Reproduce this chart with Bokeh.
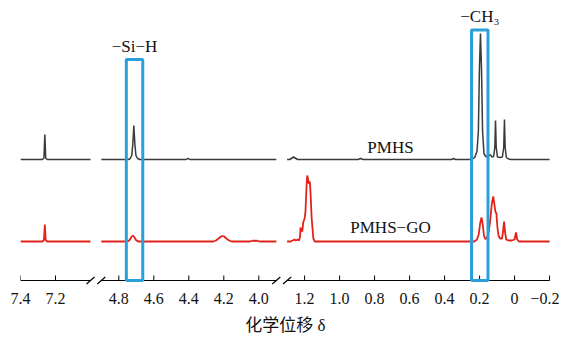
from bokeh.plotting import figure
from bokeh.models import Range1d, FixedTicker
from bokeh.core.properties import value
from bokeh.embed import file_html
from bokeh.resources import INLINE

# ---------------- data (chemical shift in ppm, intensity in arbitrary units) ----------------
# PMHS spectrum (black)
pmhs_seg1_ppm = [7.40, 7.275, 7.266, 7.261, 7.256, 7.247, 7.00]
pmhs_seg1_int = [0, 0, 1.5, 25, 1.5, 0, 0]
pmhs_seg2_ppm = [4.90, 4.745, 4.735, 4.726, 4.720, 4.714, 4.708, 4.702, 4.693, 4.680,
                 4.415, 4.405, 4.395, 3.90]
pmhs_seg2_int = [0, 0, 1, 4, 15, 34, 15, 4, 1, 0, 0, 1.2, 0, 0]
pmhs_seg3_ppm = [1.30, 1.285, 1.272, 1.263, 1.254, 1.24, 0.895, 0.880, 0.865, 0.36, 0.349, 0.338,
                 0.245, 0.228, 0.215, 0.207, 0.201, 0.195, 0.189, 0.183, 0.175, 0.165, 0.155,
                 0.145, 0.138, 0.130, 0.120, 0.113, 0.109, 0.105, 0.098, 0.085, 0.070, 0.062,
                 0.058, 0.054, 0.047, 0.035, 0.020, -0.20]
pmhs_seg3_int = [0, 0, 1.5, 2.5, 1.5, 0, 0, 1.0, 0, 0, 1.0, 0,
                 0, 2, 8, 28, 90, 126, 90, 28, 6, 3, 3,
                 4, 5, 2.5, 3, 12, 39, 12, 2.5, 2, 2.5, 12,
                 40, 12, 2, 0.5, 0, 0]

# PMHS-GO spectrum (red)
go_seg1_ppm = [7.40, 7.275, 7.266, 7.261, 7.256, 7.247, 7.00]
go_seg1_int = [0, 0, 1.5, 17, 1.5, 0, 0]
go_seg2_ppm = [4.90, 4.75, 4.738, 4.728, 4.72, 4.712, 4.702, 4.69, 4.26, 4.245, 4.23, 4.215,
               4.207, 4.198, 4.185, 4.17, 4.155, 4.05, 4.035, 4.03, 4.025, 4.02, 4.015, 4.005,
               3.99, 3.90]
go_seg2_int = [0, 0, 1.5, 4.5, 6, 4.5, 1.5, 0, 0, 1, 3, 5,
               5.5, 5, 3, 1, 0, 0, 1, 0.3, 1.2, 0.3, 1, 0.3,
               0, 0]
go_seg3_ppm = [1.30, 1.28, 1.268, 1.258, 1.25, 1.24, 1.232, 1.226, 1.223, 1.218, 1.213, 1.208,
               1.200, 1.195, 1.189, 1.185, 1.180, 1.176, 1.170, 1.165, 1.160, 1.150, 1.142,
               0.23, 0.215, 0.205, 0.197, 0.189, 0.182, 0.175, 0.168, 0.160, 0.150, 0.140,
               0.130, 0.122, 0.116, 0.110, 0.104, 0.098, 0.092, 0.083, 0.072, 0.066, 0.060,
               0.055, 0.048, 0.035, 0.015, 0.0, -0.008, -0.015, -0.025, -0.20]
go_seg3_int = [0, 0, 1, 2, 1, 2, 1, 5, 14, 11, 10, 19,
               23, 30, 55, 66, 62, 58, 60, 45, 24, 3, 0,
               0, 2, 7, 18, 24, 17, 6, 2.5, 3, 8, 20,
               38, 45, 38, 30, 28, 14, 6, 3, 3, 10, 20,
               10, 2, 1, 1, 2, 9, 2, 0, 0]

# axis ticks per segment
tick_ppm = [7.4, 7.2, 4.8, 4.6, 4.4, 4.2, 4.0, 1.2, 1.0, 0.8, 0.6, 0.4, 0.2, 0.0, -0.2]
tick_labels = ["7.4", "7.2", "4.8", "4.6", "4.4", "4.2", "4.0", "1.2", "1.0", "0.8", "0.6",
               "0.4", "0.2", "0", "\u22120.2"]

# highlighted regions (ppm)
box_left_ppm = [4.757, 0.246]
box_right_ppm = [4.663, 0.152]
box_labels = ["\u2212Si\u2212H", "\u2212CH\u2083"]

# displayed ppm ranges of the broken axis
segments = [(7.4, 7.0), (4.9, 3.9), (1.3, -0.2)]

# ---------------- broken-axis transform ----------------
GAP = 0.0617
PX = 175.0  # pixels per ppm


def to_c(ppm, seg):
    hi, lo = segments[seg]
    offset = 0.0
    for k in range(seg):
        offset += (segments[k][0] - segments[k][1]) + GAP
    return offset + (hi - ppm)


def seg_of(ppm):
    for k, (hi, lo) in enumerate(segments):
        if lo - 1e-9 <= ppm <= hi + 1e-9:
            return k
    return 0


BASE_PMHS = 121
BASE_GO = 39
BLACK = "#3a3a3a"
RED = "#e2231a"
BLUE = "#2aa0da"
SERIF = "Liberation Serif"

p = figure(width=559, height=344, output_backend="svg", toolbar_location=None,
           x_range=Range1d(0, 530 / PX), y_range=Range1d(-6, 272),
           min_border_left=20, min_border_right=9, min_border_top=8, min_border_bottom=58)
p.outline_line_color = None
p.xgrid.visible = False
p.ygrid.visible = False
p.yaxis.visible = False
p.background_fill_color = "white"

# spectra
for k, (xs, ys) in enumerate([(pmhs_seg1_ppm, pmhs_seg1_int), (pmhs_seg2_ppm, pmhs_seg2_int),
                              (pmhs_seg3_ppm, pmhs_seg3_int)]):
    p.line([to_c(v, k) for v in xs], [BASE_PMHS + v for v in ys], line_color=BLACK, line_width=1.5)
for k, (xs, ys) in enumerate([(go_seg1_ppm, go_seg1_int), (go_seg2_ppm, go_seg2_int),
                              (go_seg3_ppm, go_seg3_int)]):
    p.line([to_c(v, k) for v in xs], [BASE_GO + v for v in ys], line_color=RED, line_width=1.8)

# broken axis line
ax_x0 = [to_c(hi, k) for k, (hi, lo) in enumerate(segments)]
ax_x1 = [to_c(lo, k) for k, (hi, lo) in enumerate(segments)]
p.segment(ax_x0, [0] * 3, ax_x1, [0] * 3, line_color="black", line_width=1.2)
# break marks
dx = 4 / PX
ends = ax_x1[:2] + ax_x0[1:]
p.segment([e - dx for e in ends], [-3.5] * 4, [e + dx for e in ends], [3.5] * 4,
          line_color="black", line_width=1.2)
# ticks
tick_c = [round(to_c(v, seg_of(v)), 6) for v in tick_ppm]
p.segment(tick_c, [0] * len(tick_c), tick_c, [5] * len(tick_c), line_color="black", line_width=1)

ax = p.xaxis[0]
ax.ticker = FixedTicker(ticks=tick_c)
ax.major_label_overrides = {c: lab for c, lab in zip(tick_c, tick_labels)}
ax.axis_line_color = None
ax.major_tick_line_color = None
ax.minor_tick_line_color = None
ax.major_tick_in = 0
ax.major_tick_out = 0
ax.major_label_standoff = 6
ax.major_label_text_font = SERIF
ax.major_label_text_font_size = "16px"
ax.major_label_text_color = "#111111"
ax.axis_label = "化学位移 δ"
ax.axis_label_text_font = "'Liberation Serif', 'Noto Sans CJK SC'"
ax.axis_label_text_font_style = "normal"
ax.axis_label_text_font_size = "17px"
ax.axis_label_text_color = "#111111"
ax.axis_label_standoff = 9

# highlight boxes
bl = [to_c(v, seg_of(v)) for v in box_left_ppm]
br = [to_c(v, seg_of(v)) for v in box_right_ppm]
box_tops = [221, 250.5]
p.quad(left=bl, right=br, bottom=[0, 0], top=box_tops, fill_color=None,
       line_color=BLUE, line_width=3)
p.text([(a + b) / 2 for a, b in zip(bl, br)], [234, 264], text=box_labels,
       text_font=value(SERIF), text_font_size="17px", text_align="center",
       text_baseline="middle", text_color="#111111")

# series labels
lab_ppm = 0.709
p.text([to_c(lab_ppm, 2)] * 2, [133, 53], text=["PMHS", "PMHS\u2212GO"],
       text_font=value(SERIF), text_font_size="17px", text_align="center",
       text_baseline="middle", text_color="#111111")

open("out.html", "w").write(file_html(p, INLINE))
